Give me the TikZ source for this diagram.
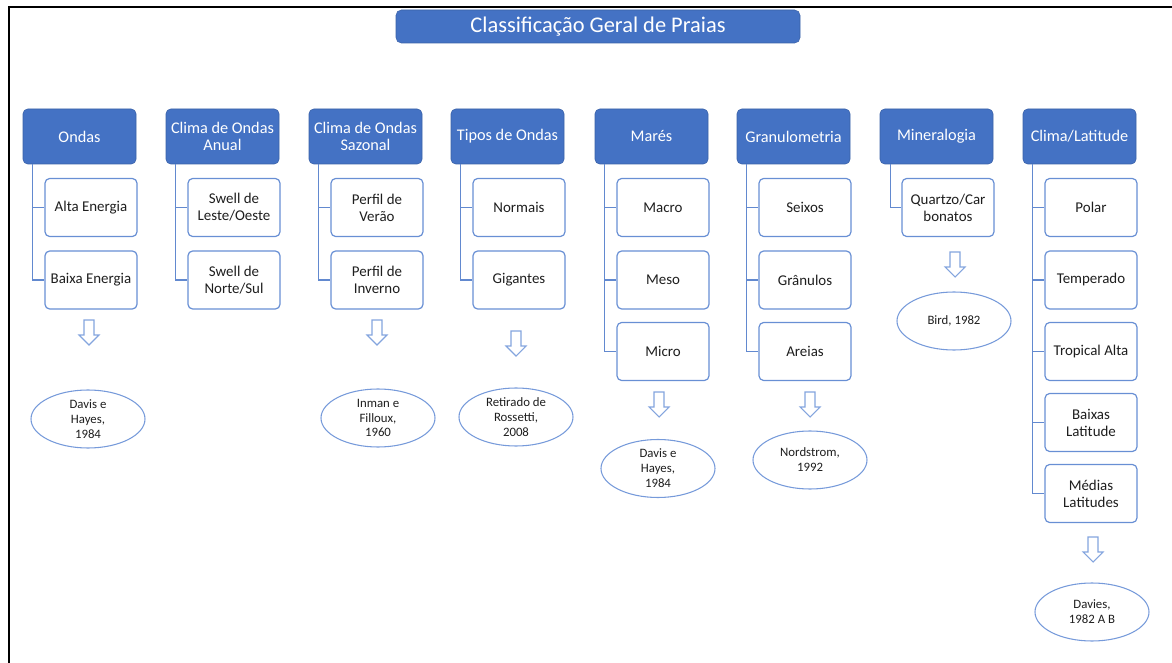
\documentclass[tikz,border=0pt]{standalone}
\usepackage{fontspec}
\setmainfont{Carlito}
\usetikzlibrary{positioning,shapes.geometric,calc}
\definecolor{hdrblue}{RGB}{68,114,196}
\definecolor{boxblue}{RGB}{104,143,212}
\definecolor{linblue}{RGB}{98,137,207}
\definecolor{ellblue}{RGB}{118,154,218}
\definecolor{arrblue}{RGB}{132,165,222}
\definecolor{txtgray}{RGB}{30,30,30}

\tikzset{
  titlebox/.style={draw=hdrblue!85!black, fill=hdrblue, rounded corners=4pt, text=white, minimum width=303pt, minimum height=24.75pt, inner sep=1pt, font=\fontsize{16.8}{18}\selectfont},
  header/.style={draw=hdrblue!85!black, fill=hdrblue, rounded corners=3.5pt, text=white, minimum width=84.75pt, minimum height=41.25pt, align=center, inner sep=1pt, font=\fontsize{12.2}{12.8}\selectfont},
  leaf/.style={draw=boxblue, line width=0.9pt, fill=white, rounded corners=3.5pt, text=txtgray, minimum width=69pt, minimum height=43.5pt, align=center, inner sep=1pt, font=\fontsize{11.2}{12.8}\selectfont},
  source/.style={ellipse, draw=ellblue, line width=0.8pt, text=txtgray, minimum width=85.5pt, minimum height=43.5pt, align=center, inner sep=0pt, font=\fontsize{9.6}{11.2}\selectfont},
  tree/.style={draw=linblue, line width=0.9pt},
  downarr/.style={draw=arrblue, line width=0.8pt, fill=white, line join=miter}
}
% hollow block arrow pointing down from a named coordinate
\newcommand{\hollowdown}[1]{\draw[downarr] ($(#1)+(-5,0)$) -- ++(10,0) -- ++(0,15) -- ++(5,0) -- ++(-10,10) -- ++(-10,-10) -- ++(5,0) -- cycle;}

\begin{document}
\begin{tikzpicture}[x=0.75pt,y=0.75pt,yscale=-1,xscale=1]
	\useasboundingbox (0,0) rectangle (1172,663);
	
	%Shape: Frame
	\draw [line width=1.5] (9,663) -- (9,7) -- (1172,7);
	
	% Title
	\node [titlebox] (praias) at (598,26.5) {Classificação Geral de Praias};
	
	% Headers
	\node [header] (ondas) at (79.5,136.5) {Ondas};
	\node [header] (anual) at (222.5,136.5) {Clima de Ondas\\Anual};
	\node [header] (sazonal) at (365.5,136.5) {Clima de Ondas\\Sazonal};
	\node [header] (tipos) at (507.5,136.5) {Tipos de Ondas};
	\node [header] (mares) at (651.5,136.5) {Marés};
	\node [header] (granulo) at (793.5,136.5) {Granulometria};
	\node [header] (mineral) at (936.5,136.5) {Mineralogia};
	\node [header] (clima) at (1079.5,136.5) {Clima/Latitude};
	
	% Ondas
	\node [leaf] (altaEn) at (91,207.5) {Alta Energia};
	\node [leaf] (baixaEn) at (91,280) {Baixa Energia};
	\draw [tree] ($(ondas.south west)+(10,0)$) |- (altaEn.west);
	\draw [tree] ($(ondas.south west)+(10,0)$) |- (baixaEn.west);
	
	% Clima de Ondas Anual
	\node [leaf] (leste) at (234,207.5) {Swell de\\Leste/Oeste};
	\node [leaf] (norte) at (234,280) {Swell de\\Norte/Sul};
	\draw [tree] ($(anual.south west)+(10,0)$) |- (leste.west);
	\draw [tree] ($(anual.south west)+(10,0)$) |- (norte.west);
	
	% Clima de Ondas Sazonal
	\node [leaf] (verao) at (377,207.5) {Perfil de\\Verão};
	\node [leaf] (inverno) at (377,280) {Perfil de\\Inverno};
	\draw [tree] ($(sazonal.south west)+(10,0)$) |- (verao.west);
	\draw [tree] ($(sazonal.south west)+(10,0)$) |- (inverno.west);
	
	% Tipos de Ondas
	\node [leaf] (normais) at (519,207.5) {Normais};
	\node [leaf] (gigantes) at (519,280) {Gigantes};
	\draw [tree] ($(tipos.south west)+(10,0)$) |- (normais.west);
	\draw [tree] ($(tipos.south west)+(10,0)$) |- (gigantes.west);
	
	% Marés
	\node [leaf] (macro) at (663,207.5) {Macro};
	\node [leaf] (meso) at (663,280) {Meso};
	\node [leaf] (micro) at (663,351.5) {Micro};
	\draw [tree] ($(mares.south west)+(10,0)$) |- (macro.west);
	\draw [tree] ($(mares.south west)+(10,0)$) |- (meso.west);
	\draw [tree] ($(mares.south west)+(10,0)$) |- (micro.west);
	
	% Granulometria
	\node [leaf] (seixos) at (805,207.5) {Seixos};
	\node [leaf] (granulos) at (805,280) {Grânulos};
	\node [leaf] (areias) at (805,351.5) {Areias};
	\draw [tree] ($(granulo.south west)+(10,0)$) |- (seixos.west);
	\draw [tree] ($(granulo.south west)+(10,0)$) |- (granulos.west);
	\draw [tree] ($(granulo.south west)+(10,0)$) |- (areias.west);
	
	% Mineralogia
	\node [leaf] (quartzo) at (948,207.5) {Quartzo/Car\\bonatos};
	\draw [tree] ($(mineral.south west)+(11,0)$) |- (quartzo.west);
	
	% Clima/Latitude
	\node [leaf] (polar) at (1091,207.5) {Polar};
	\node [leaf] (temperado) at (1091,280) {Temperado};
	\node [leaf] (tropical) at (1091,351.5) {Tropical Alta};
	\node [leaf] (baixasLat) at (1091,422.5) {Baixas\\Latitude};
	\node [leaf] (mediasLat) at (1091,493.5) {Médias\\Latitudes};
	\draw [tree] ($(clima.south west)+(10,0)$) |- (polar.west);
	\draw [tree] ($(clima.south west)+(10,0)$) |- (temperado.west);
	\draw [tree] ($(clima.south west)+(10,0)$) |- (tropical.west);
	\draw [tree] ($(clima.south west)+(10,0)$) |- (baixasLat.west);
	\draw [tree] ($(clima.south west)+(10,0)$) |- (mediasLat.west);
	
	% Arrows
	\coordinate (arrOndas) at (89,320);
	\coordinate (arrSazonal) at (377,320);
	\coordinate (arrTipos) at (516,331);
	\coordinate (arrMares) at (659,392);
	\coordinate (arrGranulo) at (810,392);
	\coordinate (arrMineral) at (955,252);
	\coordinate (arrClima) at (1093,537);
	\hollowdown{arrOndas}
	\hollowdown{arrSazonal}
	\hollowdown{arrTipos}
	\hollowdown{arrMares}
	\hollowdown{arrGranulo}
	\hollowdown{arrMineral}
	\hollowdown{arrClima}
	
	% Sources
	\node [source] (davisA) at (88,419) {Davis e\\Hayes,\\1984};
	\node [source] (inman) at (378,418) {Inman e\\Filloux,\\1960};
	\node [source] (rossetti) at (516,417) {Retirado de\\Rossetti,\\2008};
	\node [source] (davisB) at (658,468.5) {Davis e\\Hayes,\\1984};
	\node [source] (nordstrom) at (810,460) {Nordstrom,\\1992};
	\node [source] (bird) at (954,321) {Bird, 1982};
	\node [source] (davies) at (1092,612) {Davies,\\1982 A B};
	
\end{tikzpicture}
\end{document}
